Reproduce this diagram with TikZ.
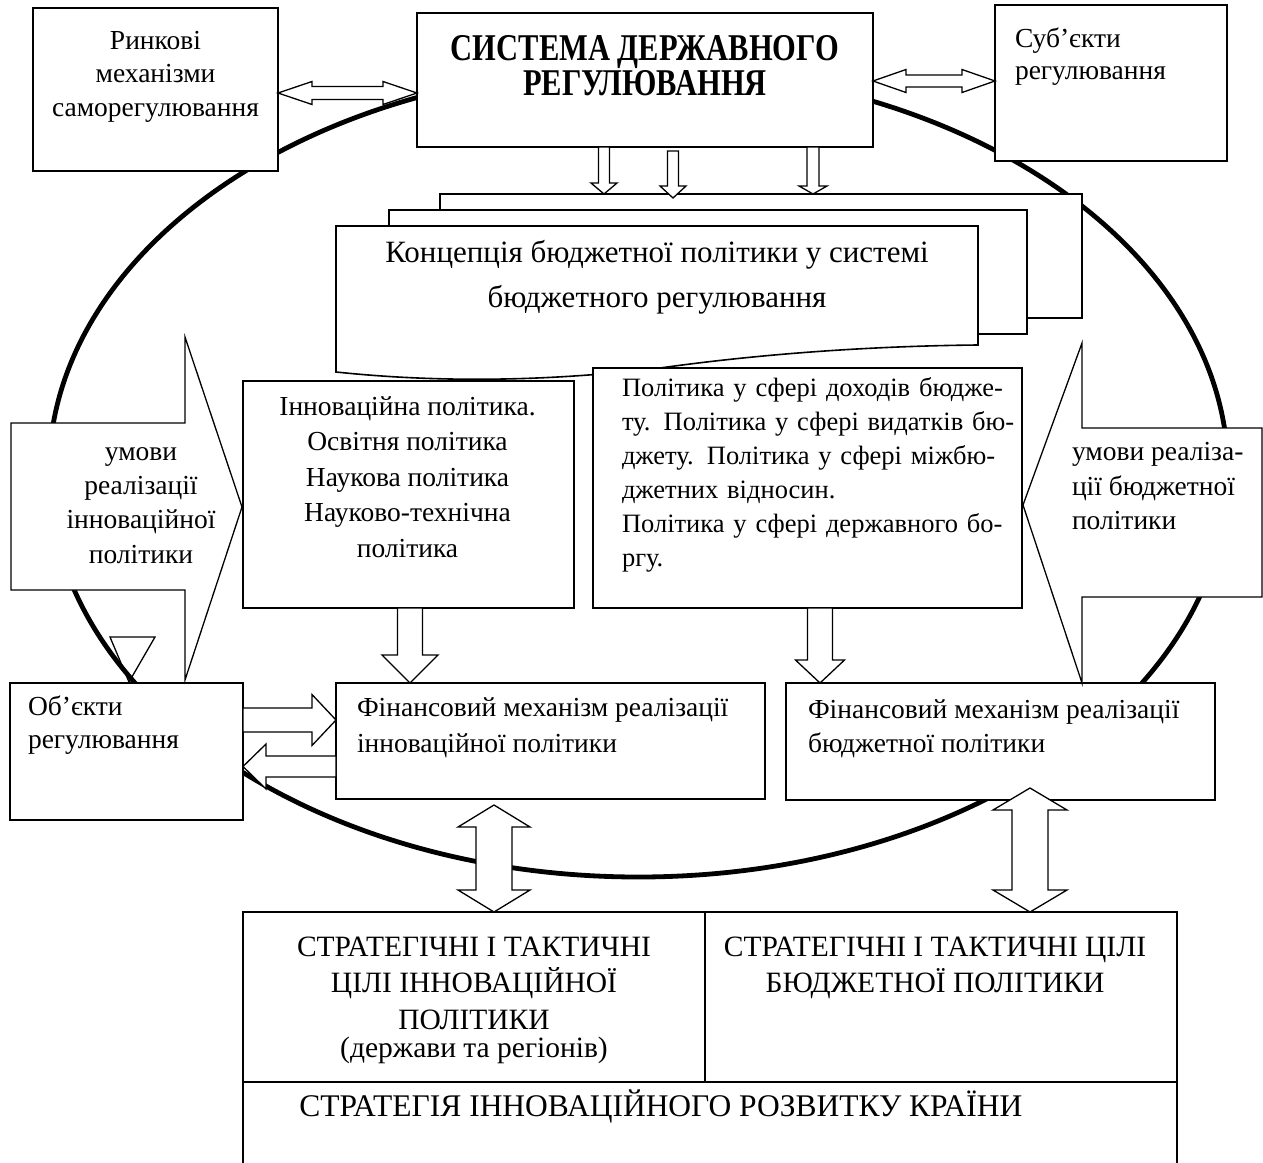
\documentclass[tikz,border=0pt]{standalone}
\usepackage{fontspec}
\setmainfont{Liberation Serif}
\usetikzlibrary{calc}
\newcommand\fl{\rule{0pt}{0.75em}}
\newcommand\tall[1]{\scalebox{1}[1.24]{#1}}
% block arrow: #1 tail, #2 tip, #3 shaft half width, #4 head half width, #5 head length
\newcommand\blockarrow[5]{%
  \coordinate (ba-n) at ($(#2)!#5!(#1)$);
  \draw[barrow] ($(#1)!#3!90:(#2)$) -- ($(ba-n)!#3!90:(#2)$) -- ($(ba-n)!#4!90:(#2)$) -- (#2)
    -- ($(ba-n)!#4!-90:(#2)$) -- ($(ba-n)!#3!-90:(#2)$) -- ($(#1)!#3!-90:(#2)$) -- cycle;}
\newcommand\dblarrow[5]{%
  \coordinate (da-a) at ($(#1)!#5!(#2)$);
  \coordinate (da-b) at ($(#2)!#5!(#1)$);
  \draw[barrow] (#1) -- ($(da-a)!#4!90:(#2)$) -- ($(da-a)!#3!90:(#2)$) -- ($(da-b)!#3!90:(#2)$)
    -- ($(da-b)!#4!90:(#2)$) -- (#2) -- ($(da-b)!#4!-90:(#2)$) -- ($(da-b)!#3!-90:(#2)$)
    -- ($(da-a)!#3!-90:(#2)$) -- ($(da-a)!#4!-90:(#2)$) -- cycle;}
\begin{document}
\begin{tikzpicture}[x=1pt,y=-1pt,
  box/.style={draw, line width=1.6pt, fill=white, inner sep=0pt, outer sep=0pt},
  sheet/.style={draw, line width=1.6pt, fill=white, inner sep=0pt, outer sep=0pt},
  barrow/.style={draw, line width=1.3pt, fill=white, line join=miter},
  bigarrow/.style={draw, line width=1.3pt, fill=white, line join=miter},
  txt/.style={inner sep=0pt, outer sep=0pt},
  caps/.style={font=\fontsize{29.5}{36.5}\selectfont},
]
\useasboundingbox (0,0) rectangle (1263,1162);
\fill[white] (0,0) rectangle (1263,1162);

% big ellipse
\draw[line width=4.8pt] (638.5,472.5) ellipse [x radius=589.5pt, y radius=404.5pt];

% document stack
\node[sheet, minimum width=642pt, minimum height=124pt] (back) at (761,256) {};
\node[sheet, minimum width=638pt, minimum height=124pt] (middle) at (708,272) {};
\draw[sheet] (336,226) coordinate (front-nw) -- (978,226) coordinate (front-ne) -- (978,345)
  .. controls (870,346) and (760,354) .. (660,368)
  .. controls (560,380) and (450,384) .. (336,372) -- cycle;
\node[txt, anchor=north, align=center, font=\fontsize{31}{45}\selectfont] (t-conc) at (657,239.5)
  {\fl Концепція бюджетної політики у системі\\бюджетного регулювання};

% boxes
\node[box, minimum width=245pt, minimum height=163pt] (rynk) at (155.5,89.5) {};
\node[box, minimum width=456pt, minimum height=134pt] (sys) at (645,80) {};
\node[box, minimum width=232pt, minimum height=156pt] (subj) at (1111,83) {};
\node[box, minimum width=331pt, minimum height=227pt] (innov) at (408.5,494.5) {};
\node[box, minimum width=429pt, minimum height=240pt] (budg) at (807.5,488) {};
\node[box, minimum width=233pt, minimum height=137pt] (obj) at (126.5,751.5) {};
\node[box, minimum width=429pt, minimum height=116pt] (fininn) at (550.5,741) {};
\node[box, minimum width=429pt, minimum height=117pt] (finbud) at (1000.5,741.5) {};
\node[box, minimum width=462pt, minimum height=170pt] (goalinn) at (474,997) {};
\node[box, minimum width=472pt, minimum height=170pt] (goalbud) at (941,997) {};
\node[box, minimum width=934pt, minimum height=98pt] (strat) at (710,1131) {};

% big side arrows
\draw[bigarrow] (11,423) -- (185,423) -- (185,337) -- (242,507) -- (185,680) -- (185,590) -- (11,590) -- cycle;
\draw[bigarrow] (1262,428) -- (1082,428) -- (1082,343) -- (1023,505) -- (1082,683) -- (1082,597) -- (1262,597) -- cycle;
% small triangle
\draw[line width=1.3pt, line join=miter] (110,637) -- (155,637) -- (129,682) -- cycle;

% arrows
\coordinate (a1s) at (rynk.east |- 0,93);
\coordinate (a1t) at (sys.west |- 0,93);
\dblarrow{a1s}{a1t}{6.5pt}{11.5pt}{34pt}
\coordinate (a2s) at (sys.east |- 0,81);
\coordinate (a2t) at (subj.west |- 0,81);
\dblarrow{a2s}{a2t}{6pt}{11.5pt}{33pt}

\coordinate (d1s) at (604,0 |- sys.south);
\coordinate (d1t) at (604,0 |- back.north);
\blockarrow{d1s}{d1t}{5.5pt}{13pt}{11pt}
\coordinate (d2s) at ($(673,0 |- sys.south)+(0,4)$);
\coordinate (d2t) at ($(673,0 |- back.north)+(0,4)$);
\blockarrow{d2s}{d2t}{5.5pt}{13pt}{12pt}
\coordinate (d3s) at (813,0 |- sys.south);
\coordinate (d3t) at (813,0 |- back.north);
\blockarrow{d3s}{d3t}{6pt}{14pt}{8pt}

\coordinate (d4s) at (410,0 |- innov.south);
\coordinate (d4t) at (410,0 |- fininn.north);
\blockarrow{d4s}{d4t}{12.5pt}{28pt}{28pt}
\coordinate (d5s) at (820,0 |- budg.south);
\coordinate (d5t) at (820,0 |- finbud.north);
\blockarrow{d5s}{d5t}{12.5pt}{24.5pt}{23pt}

\coordinate (h1s) at (obj.east |- 0,720);
\coordinate (h1t) at (fininn.west |- 0,720);
\blockarrow{h1s}{h1t}{12pt}{25.5pt}{24pt}
\coordinate (h2s) at (fininn.west |- 0,766.5);
\coordinate (h2t) at (obj.east |- 0,766.5);
\blockarrow{h2s}{h2t}{10.5pt}{22.5pt}{23pt}

\coordinate (v1s) at (494,805);
\coordinate (v1t) at (494,0 |- goalinn.north);
\dblarrow{v1s}{v1t}{18pt}{36pt}{22pt}
\coordinate (v2s) at (1030,788);
\coordinate (v2t) at (1030,0 |- goalbud.north);
\dblarrow{v2s}{v2t}{18pt}{37pt}{22pt}

% texts
\node[txt, anchor=north, align=center, font=\fontsize{27.5}{33.5}\selectfont] (t-rynk) at (155.5,28.5)
  {\fl Ринкові\\механізми\\саморегулювання};
\node[txt, anchor=north, align=center, font=\fontsize{30.5}{35}\selectfont\bfseries] (t-sys) at (645,35)
  {\tall{СИСТЕМА ДЕРЖАВНОГО}\\\tall{РЕГУЛЮВАННЯ}};
\node[txt, anchor=north west, align=left, font=\fontsize{27.5}{32}\selectfont] (t-subj) at (1015,27)
  {\fl Суб’єкти\\регулювання};
\node[txt, anchor=north, align=center, font=\fontsize{27.5}{35.5}\selectfont] (t-innov) at (407.5,394.5)
  {\fl Інноваційна політика.\\Освітня політика\\Наукова політика\\Науково-технічна\\політика};
\node[txt, anchor=north west, align=left, text width=395pt, font=\fontsize{26.5}{34}\selectfont] (t-budg) at (622,377)
  {\fl\makebox[390pt][s]{Політика у сфері доходів бюдже-}\\
   \makebox[390pt][s]{ту. Політика у сфері видатків бю-}\\
   \makebox[390pt][s]{джету. Політика у сфері міжбю-}\\
   джетних відносин.\\
   \makebox[390pt][s]{Політика у сфері державного бо-}\\
   ргу.};
\node[txt, anchor=north, align=center, font=\fontsize{27.5}{34.3}\selectfont] (t-left) at (141,439.5)
  {\fl умови\\реалізації\\інноваційної\\політики};
\node[txt, anchor=north west, align=left, font=\fontsize{27.5}{34.5}\selectfont] (t-right) at (1072,440)
  {\fl умови реаліза-\\ції бюджетної\\політики};
\node[txt, anchor=north west, align=left, font=\fontsize{27.5}{33}\selectfont] (t-obj) at (28,695)
  {\fl Об’єкти\\регулювання};
\node[txt, anchor=north west, align=left, font=\fontsize{27.5}{35.5}\selectfont] (t-fininn) at (357,696)
  {\fl Фінансовий механізм реалізації\\інноваційної політики};
\node[txt, anchor=north west, align=left, font=\fontsize{27.5}{34}\selectfont] (t-finbud) at (808,697.5)
  {\fl Фінансовий механізм реалізації\\бюджетної політики};
\node[txt, anchor=north, align=center, caps] (t-goalinn) at (474,934)
  {\fl СТРАТЕГІЧНІ І ТАКТИЧНІ\\ЦІЛІ ІННОВАЦІЙНОЇ\\ПОЛІТИКИ\\[-8pt](держави та регіонів)};
\node[txt, anchor=north, align=center, caps] (t-goalbud) at (935,934)
  {\fl СТРАТЕГІЧНІ І ТАКТИЧНІ ЦІЛІ\\БЮДЖЕТНОЇ ПОЛІТИКИ};
\node[txt, anchor=north, align=center, font=\fontsize{31.5}{36}\selectfont] (t-strat) at (661,1090)
  {\fl СТРАТЕГІЯ ІННОВАЦІЙНОГО РОЗВИТКУ КРАЇНИ};
\end{tikzpicture}
\end{document}
